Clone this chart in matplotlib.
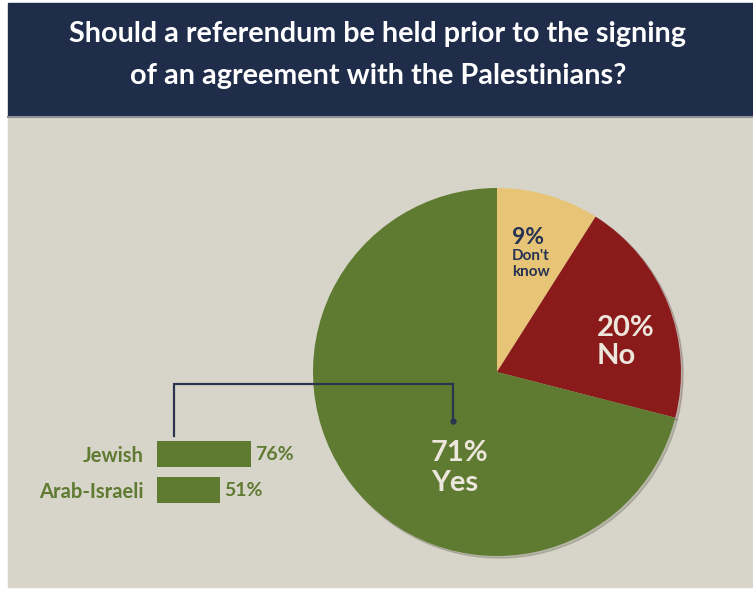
import matplotlib
matplotlib.use("Agg")
import matplotlib.pyplot as plt
from matplotlib.patches import Rectangle

plt.rcParams['font.family'] = ['Lato', 'DejaVu Sans']
plt.rcParams['font.weight'] = 'bold'

# survey results
answers = ["Don't know", "No", "Yes"]
shares = [9, 20, 71]
answer_labels = ["9%\nDon't\nknow", "20%\nNo", "71%\nYes"]

groups = ["Jewish", "Arab-Israeli"]
group_yes = [76, 51]

title = "Should a referendum be held prior to the signing\nof an agreement with the Palestinians?"

NAVY = "#1f2d4a"
BEIGE = "#d7d4c9"
GREEN = "#5f7a31"
RED = "#8b1a1b"
YELLOW = "#e8c476"
INK = "#263252"
PALE = "#ece6dc"

W, H = 753, 589
fig = plt.figure(figsize=(W / 100, H / 100), dpi=100)
fig.patch.set_facecolor("white")

# main canvas in pixel units (y measured from the bottom)
ax = fig.add_axes([0, 0, 1, 1])

ax.add_patch(Rectangle((8, H - 587), W - 8, 587 - 116, color=BEIGE, zorder=0))
ax.add_patch(Rectangle((8, H - 116), W - 8, 113, color=NAVY, zorder=0))
ax.plot([8, W], [H - 117, H - 117], color="#8d9096", lw=1.5, zorder=1)

ax.text(378, H - 55, title, ha="center", va="center", color="white",
        fontsize=20.7, fontweight="bold", linespacing=1.8)

# pie
cx, cy, r = 497, H - 372, 184
wedges, _ = ax.pie(shares, colors=[YELLOW, RED, GREEN], startangle=90,
                   counterclock=False, center=(cx, cy), radius=r, frame=True,
                   shadow={'ox': 1.5, 'oy': -1.5, 'shade': 0.6, 'alpha': 0.18})
ax.set_xlim(0, W)
ax.set_ylim(0, H)
ax.set_aspect("equal")
ax.axis("off")

dk = answer_labels[0].split("\n")
ax.text(512, H - 237, dk[0], ha="left", va="center",
        color=INK, fontsize=16.5, fontweight="bold")
ax.text(512, H - 264, "\n".join(dk[1:]), ha="left",
        va="center", color=INK, fontsize=11, fontweight="bold", linespacing=1.2)
ax.text(597, H - 342, answer_labels[1], ha="left", va="center", color=PALE,
        fontsize=21, fontweight="bold", linespacing=1.1)
ax.text(431, H - 468, answer_labels[2], ha="left", va="center", color=PALE,
        fontsize=21, fontweight="bold", linespacing=1.15)

# bracket from the breakdown to the Yes slice
ax.plot([174, 174, 453, 453], [H - 436, H - 384, H - 384, H - 421],
        color="#2b3550", lw=1.6, solid_joinstyle="miter", zorder=5)
ax.plot([453], [H - 421], marker="o", ms=3.5, color="#2b3550", zorder=5)

# breakdown bars: 100% spans about 124 px
bx = fig.add_axes([157 / W, (H - 508) / H, 123.7 / W, 72 / H])
bx.barh(range(len(groups)), group_yes, height=0.72, color=GREEN)
bx.set_xlim(0, 100)
bx.set_ylim(1.5, -0.5)
bx.patch.set_alpha(0)
for s in bx.spines.values():
    s.set_visible(False)
bx.set_xticks([])
bx.set_yticks(range(len(groups)))
bx.set_yticklabels(groups, color=GREEN, fontsize=14.5, fontweight="bold")
bx.tick_params(axis="y", length=0, pad=10)
for i, v in enumerate(group_yes):
    bx.text(v + 3, i, f"{v}%", ha="left", va="center", color=GREEN,
            fontsize=14, fontweight="bold")

fig.savefig("out.png", dpi=100)
